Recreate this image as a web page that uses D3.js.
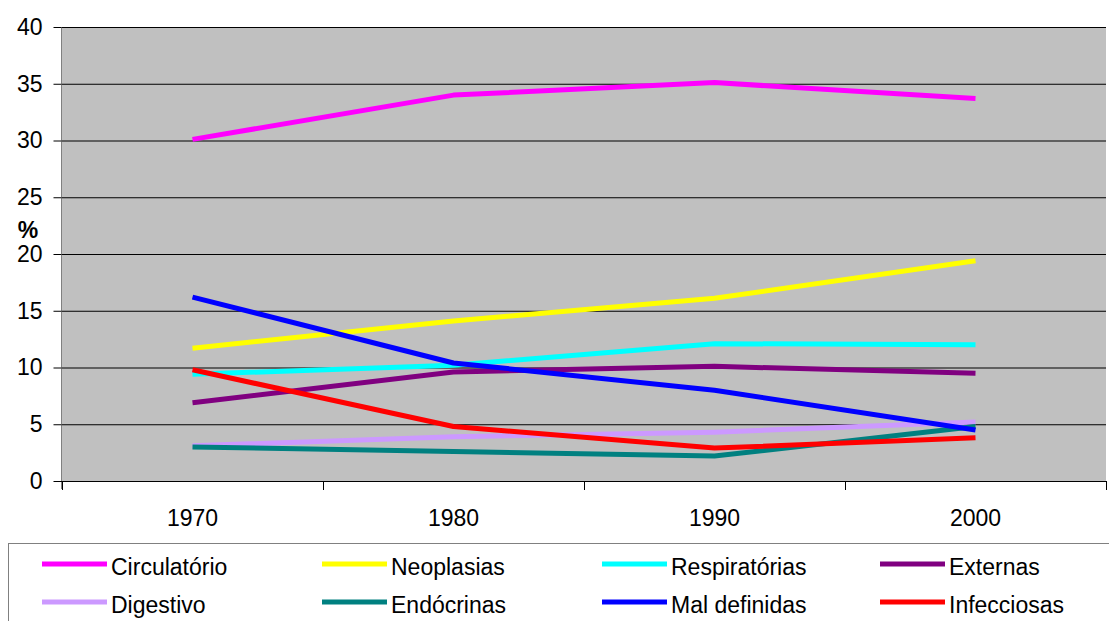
<!DOCTYPE html>
<html>
<head>
<meta charset="utf-8">
<script src="https://cdn.jsdelivr.net/npm/d3@7"></script>
<style>
  body { margin: 0; background: #fff; }
  text { font-family: "Liberation Sans", Arial, sans-serif; }
</style>
</head>
<body>
<svg id="chart" width="1109" height="621"></svg>
<script>
// data
const years = ["1970", "1980", "1990", "2000"];
const yTicks = [0, 5, 10, 15, 20, 25, 30, 35, 40];
const seriesNames = ["Circulatório", "Neoplasias", "Respiratórias", "Externas",
                     "Digestivo", "Endócrinas", "Mal definidas", "Infecciosas"];
const seriesColors = ["#ff00ff", "#ffff00", "#00ffff", "#800080",
                      "#cc99ff", "#008080", "#0000ff", "#ff0000"];
const circulatorio = [30.1, 34.0, 35.1, 33.7];
const neoplasias = [11.7, 14.1, 16.1, 19.4];
const respiratorias = [9.4, 10.2, 12.1, 12.0];
const externas = [6.9, 9.6, 10.1, 9.5];
const digestivo = [3.1, 3.9, 4.3, 5.2];
const endocrinas = [3.0, 2.6, 2.2, 4.8];
const malDefinidas = [16.2, 10.4, 8.0, 4.5];
const infecciosas = [9.8, 4.8, 2.9, 3.8];
const seriesValues = [circulatorio, neoplasias, respiratorias, externas,
                      digestivo, endocrinas, malDefinidas, infecciosas];

const svg = d3.select("#chart");
const plotLeft = 62, plotRight = 1106, plotTop = 27, plotBottom = 481;
const fontSize = 23;

// scales
const xScale = d3.scaleBand().domain(years).range([plotLeft, plotRight]);
const yScale = d3.scaleLinear().domain([0, 40]).range([plotBottom, plotTop]);

// plot background
svg.append("rect")
  .attr("x", plotLeft).attr("y", plotTop)
  .attr("width", plotRight - plotLeft).attr("height", plotBottom - plotTop)
  .attr("fill", "#c0c0c0");

// gridlines
svg.append("g").selectAll("line")
  .data(yTicks.filter(d => d > 0))
  .enter().append("line")
  .attr("x1", plotLeft).attr("x2", plotRight)
  .attr("y1", d => yScale(d) + 0.5).attr("y2", d => yScale(d) + 0.5)
  .attr("stroke", "#000").attr("stroke-width", 1);

// y axis
const yAxis = d3.axisLeft(yScale).tickValues(yTicks).tickSize(8).tickPadding(11);
const gy = svg.append("g")
  .attr("transform", "translate(" + (plotLeft - 0.5) + ",0)")
  .call(yAxis);
gy.select(".domain").attr("stroke", "#808080").attr("d", "M0," + plotTop + "V" + (plotBottom + 8));
gy.selectAll(".tick line").attr("stroke", "#000");
gy.selectAll(".tick text").attr("font-size", fontSize).attr("fill", "#000")
  .style("font-family", "'Liberation Sans', Arial, sans-serif");

// y label
svg.append("text")
  .attr("x", 28).attr("y", 238)
  .attr("text-anchor", "middle")
  .attr("font-size", fontSize).attr("font-weight", "bold")
  .text("%");

// x axis
svg.append("line")
  .attr("x1", plotLeft - 8).attr("x2", plotRight)
  .attr("y1", plotBottom + 0.5).attr("y2", plotBottom + 0.5)
  .attr("stroke", "#000");
const boundaries = years.map(d => xScale(d)).concat([plotRight]);
svg.append("g").selectAll("line")
  .data(boundaries)
  .enter().append("line")
  .attr("x1", d => Math.round(d) + 0.5).attr("x2", d => Math.round(d) + 0.5)
  .attr("y1", plotBottom).attr("y2", plotBottom + 9)
  .attr("stroke", "#000");
svg.append("g").selectAll("text")
  .data(years)
  .enter().append("text")
  .attr("x", d => xScale(d) + xScale.bandwidth() / 2)
  .attr("y", 526)
  .attr("text-anchor", "middle")
  .attr("font-size", fontSize)
  .text(d => d);

// lines
const line = d3.line()
  .x((d, i) => xScale(years[i]) + xScale.bandwidth() / 2)
  .y(d => yScale(d));
svg.append("g").selectAll("path")
  .data(seriesValues)
  .enter().append("path")
  .attr("d", d => line(d))
  .attr("fill", "none")
  .attr("stroke", (d, i) => seriesColors[i])
  .attr("stroke-width", 5)
  .attr("stroke-linejoin", "round");

// legend
svg.append("rect")
  .attr("x", 8.5).attr("y", 543.5)
  .attr("width", 1110).attr("height", 90)
  .attr("fill", "#fff").attr("stroke", "#808080");
const legendCols = [42, 322, 602, 880];
const legendRows = [564, 602];
const legend = svg.append("g").selectAll("g")
  .data(seriesNames)
  .enter().append("g")
  .attr("transform", (d, i) => "translate(" + legendCols[i % 4] + "," + legendRows[Math.floor(i / 4)] + ")");
legend.append("line")
  .attr("x1", 0).attr("x2", 65)
  .attr("y1", 0).attr("y2", 0)
  .attr("stroke", (d, i) => seriesColors[i])
  .attr("stroke-width", 5);
legend.append("text")
  .attr("x", 69).attr("y", 11)
  .attr("font-size", fontSize)
  .text(d => d);
</script>
</body>
</html>
